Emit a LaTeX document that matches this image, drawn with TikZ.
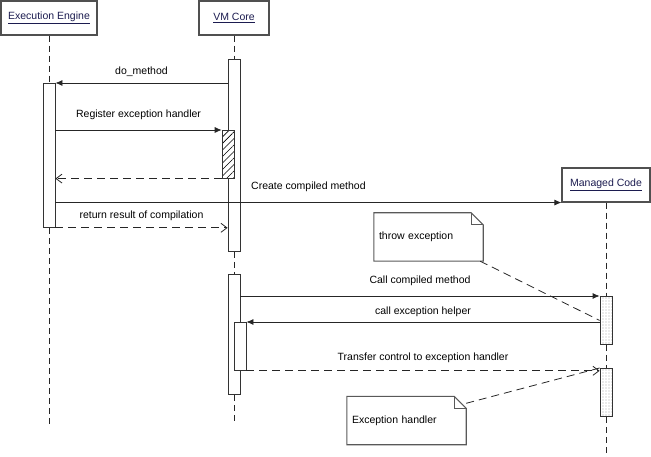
\documentclass[tikz,border=0pt]{standalone}
\usepackage{fontspec}
\setmainfont{Liberation Sans}
\usetikzlibrary{arrows.meta,patterns.meta}
\definecolor{headline}{HTML}{505050}
\definecolor{headtext}{HTML}{1C1C50}

\tikzset{
  head/.style={draw=headline, line width=1.1pt, fill=white, inner sep=0pt,
    text=headtext, minimum height=34pt},
  act/.style={draw=black!80, line width=0.8pt, fill=white, inner sep=0pt,
    minimum width=12pt, anchor=north},
  hatched/.style={preaction={fill=white}, pattern={Lines[angle=45, distance=4.6pt, line width=0.6pt]}},
  dotted box/.style={preaction={fill=white}, pattern={Dots[distance=3pt, radius=0.45pt]}},
  life/.style={draw=black!85, line width=0.8pt, dash pattern=on 6pt off 4pt},
  msg/.style={draw=black!85, line width=0.8pt, -{Latex[length=7pt,width=6pt]}},
  reply/.style={draw=black!85, line width=0.8pt, dash pattern=on 8pt off 5pt,
    -{Straight Barb[length=6pt,width=9pt]}},
  lbl/.style={midway, inner sep=0pt},
  note/.style={inner sep=5pt, minimum height=48pt, align=left},
  noteline/.style={draw=black!65, line width=1.1pt},
  notelink/.style={draw=black!85, line width=0.8pt, dash pattern=on 8pt off 5pt}
}

\begin{document}
\begin{tikzpicture}[x=1pt, y=-1pt, font=\fontsize{10.5}{12}\selectfont]
    \useasboundingbox (0,0) rectangle (651,457);

    % object heads
    \node[head, minimum width=96pt] (ee) at (49,18) {\underline{Execution Engine}};
    \node[head, minimum width=70pt] (vm) at (234,18) {\underline{VM Core}};
    \node[head, minimum width=88pt] (mc) at (606,185) {\underline{Managed Code}};

    \coordinate (eeEnd) at (49,427);
    \coordinate (vmEnd) at (234,424);
    \coordinate (mcEnd) at (606,457);

    % activations
    \node[act, minimum height=144pt] (eeA) at (49,83) {};
    \node[act, minimum height=192pt] (vmA) at (234,59) {};
    \node[act, minimum height=48pt, hatched] (hatch) at (228,130) {};
    \node[act, minimum height=120pt] (vmB) at (234,274) {};
    \node[act, minimum height=48pt] (nest) at (240,322) {};
    \node[act, minimum height=48pt, dotted box] (mcA) at (606,296) {};
    \node[act, minimum height=48pt, dotted box] (mcB) at (606,368) {};

    % lifelines
    \draw[life] (ee.south) -- (eeA.north) (eeA.south) -- (eeEnd);
    \draw[life] (vm.south) -- (vmA.north) (vmA.south) -- (vmB.north) (vmB.south) -- (vmEnd);
    \draw[life] (mc.south) -- (mcA.north) (mcA.south) -- (mcB.north) (mcB.south) -- (mcEnd);

    % messages
    \draw[msg] (vmA.west |- eeA.north) -- (eeA.north east) node[lbl, yshift=11pt]{do\_method};
    \draw[msg] (eeA.east |- hatch.north) -- (hatch.north west) node[lbl, yshift=15pt]{Register exception handler};
    \draw[reply] (hatch.south west) -- (eeA.east |- hatch.south);
    \draw[msg] (eeA.east |- mc.south west) -- (mc.south west) node[lbl, yshift=16pt]{Create compiled method};
    \draw[reply] (eeA.south east) -- (vmA.west |- eeA.south) node[lbl, yshift=12pt]{return result of compilation};
    \draw[msg] (vmB.east |- mcA.north) -- (mcA.north west) node[lbl, yshift=15pt]{Call compiled method};
    \draw[msg] (mcA.west |- nest.north) -- (nest.north east) node[lbl, yshift=10pt]{call exception helper};
    \draw[reply] (nest.south east) -- (mcB.west |- nest.south) node[lbl, yshift=13pt]{Transfer control to exception handler};

    % notes
    \node[note, minimum width=109pt, text width=99pt] (thr) at (428.5,237) {throw exception};
    \node[note, minimum width=119pt, text width=109pt] (exh) at (406.5,420.5) {Exception handler};
    \foreach \n in {thr,exh} {
      \draw[noteline] (\n.south west) -- (\n.north west) -- ([xshift=-12pt]\n.north east)
        -- ([yshift=-12pt]\n.north east) -- (\n.south east) -- cycle;
      \draw[noteline] ([xshift=-12pt]\n.north east) |- ([yshift=-12pt]\n.north east);
    }
    \draw[notelink] ([xshift=-3pt]thr.south east) -- (mcA.west);
    \draw[notelink] ([yshift=-7pt]exh.north east) -- (mcB.north west);
\end{tikzpicture}
\end{document}
